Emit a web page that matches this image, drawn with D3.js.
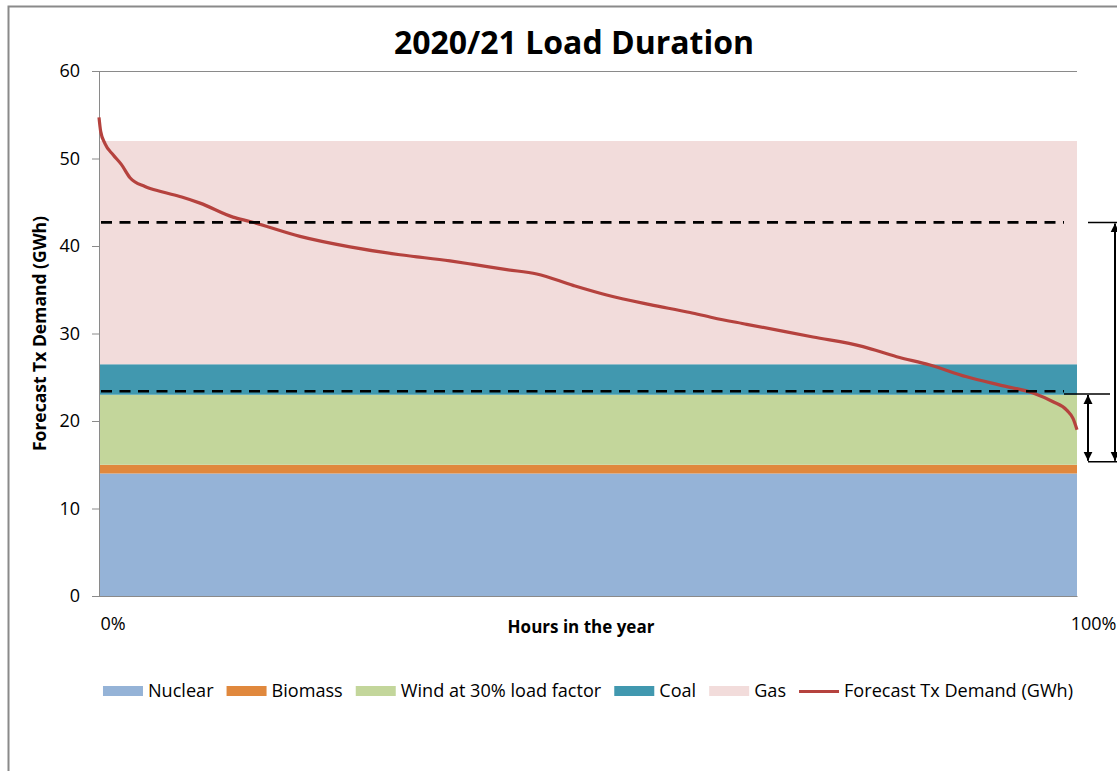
<!DOCTYPE html>
<html>
<head>
<meta charset="utf-8">
<script src="https://cdn.jsdelivr.net/npm/d3@7"></script>
<style>
  html, body { margin: 0; padding: 0; background: #fff; }
  svg { display: block; font-family: "Open Sans", "Liberation Sans", sans-serif; }
</style>
</head>
<body>
<svg id="chart" width="1117" height="771"></svg>
<script>
// ---------- data ----------
const titleText = "2020/21 Load Duration";
const yTitle = "Forecast Tx Demand (GWh)";
const xTitle = "Hours in the year";
const yTicks = [0, 10, 20, 30, 40, 50, 60];
const xTickLabels = ["0%", "100%"];
const xTickValues = [0, 100];

const bandNames = ["Nuclear", "Biomass", "Wind at 30% load factor", "Coal", "Gas"];
const bandValues = [14, 1, 8, 3.5, 25.5];
const bandColors = ["#95b3d7", "#e0883d", "#c3d69b", "#4198af", "#f2dcdb"];

const demandName = "Forecast Tx Demand (GWh)";
const demandPct = [0, 0.17, 0.61, 1.46, 2.3, 3.17, 4.7, 6.41, 8.46, 10.33, 13.7, 15.44, 20.55,
  25.66, 30.78, 35.89, 38.27, 41.69, 44.76, 48.47, 51.91, 56.34, 60.43, 62.78, 66.23, 73.01,
  78.12, 81.56, 84.97, 88.72, 92.13, 95.5, 97.55, 98.95, 99.59, 100];
const demandGWh = [54.7, 53.1, 51.7, 50.4, 49.3, 47.8, 46.8, 46.2, 45.6, 44.9, 43.3, 42.8, 41.1,
  39.9, 39.0, 38.3, 37.9, 37.3, 36.8, 35.5, 34.4, 33.3, 32.4, 31.8, 31.05, 29.6,
  28.5, 27.35, 26.4, 25.05, 24.1, 23.2, 22.2, 21.25, 20.3, 19.0];
const demandColor = "#b5423e";

const dashedLevels = [42.7, 23.4];
// annotation bracket levels (GWh) on the right
const bracketTop = 42.7, bracketMid = 23.1, bracketBottom = 15.35;

// ---------- layout ----------
const svg = d3.select("#chart");
const margin = { left: 99, right: 1077, top: 71, bottom: 596 };

const x = d3.scaleLinear().domain([0, 100]).range([margin.left, margin.right]);
const y = d3.scaleLinear().domain([0, 60]).range([margin.bottom, margin.top]);

// frame
svg.append("rect").attr("x", 8.5).attr("y", 6.5).attr("width", 1300).attr("height", 900)
  .attr("fill", "#fff").attr("stroke", "#8a8a8a").attr("stroke-width", 2);

// title
svg.append("text").attr("x", 574).attr("y", 54).attr("text-anchor", "middle")
  .attr("font-weight", "bold").attr("font-size", 32).attr("fill", "#000").text(titleText);

// gridlines
const grid = svg.append("g").attr("transform", `translate(${margin.left},0)`)
  .call(d3.axisLeft(y).tickValues(yTicks).tickSize(-(margin.right - margin.left)).tickFormat(""));
grid.select(".domain").remove();
grid.selectAll("line").attr("stroke", "#8a8a8a").attr("stroke-width", 1);

// stacked bands
const bandRow = {};
bandNames.forEach((n, i) => bandRow[n] = bandValues[i]);
const stacked = d3.stack().keys(bandNames)([bandRow]);
stacked.forEach((s, i) => {
  const lo = s[0][0], hi = s[0][1];
  const a = d3.area().x(d => x(d)).y0(y(lo)).y1(y(hi));
  svg.append("path").datum(xTickValues).attr("d", a).attr("fill", bandColors[i]);
});

// y axis
const yAxis = svg.append("g").attr("transform", `translate(${margin.left},0)`)
  .call(d3.axisLeft(y).tickValues(yTicks).tickSize(7).tickPadding(12));
yAxis.select(".domain").attr("stroke", "#8a8a8a");
yAxis.selectAll("line").attr("stroke", "#8a8a8a");
yAxis.selectAll("text").attr("font-size", 18).attr("fill", "#000")
  .style("font-family", "'Open Sans', sans-serif");

// x axis
const xAxis = svg.append("g").attr("transform", `translate(0,${margin.bottom})`)
  .call(d3.axisBottom(x).tickValues(xTickValues).tickSize(0).tickPadding(21)
    .tickFormat((d, i) => xTickLabels[i]));
xAxis.select(".domain").attr("stroke", "#8a8a8a");
xAxis.selectAll("text").attr("font-size", 18).attr("fill", "#000")
  .attr("text-anchor", (d, i) => i === 0 ? "start" : "end")
  .attr("dx", (d, i) => i === 0 ? 1 : 39)
  .style("font-family", "'Open Sans', sans-serif");

// axis titles
svg.append("text").attr("transform", `translate(46,${(margin.top + margin.bottom) / 2}) rotate(-90)`)
  .attr("text-anchor", "middle").attr("font-weight", "bold").attr("font-size", 17.5)
  .attr("fill", "#000").text(yTitle);
svg.append("text").attr("x", 581).attr("y", 633).attr("text-anchor", "middle")
  .attr("font-weight", "bold").attr("font-size", 17).attr("fill", "#000").text(xTitle);

// demand curve
const line = d3.line().x((d, i) => x(demandPct[i])).y(d => y(d)).curve(d3.curveMonotoneX);
svg.append("path").datum(demandGWh).attr("d", line).attr("fill", "none")
  .attr("stroke", demandColor).attr("stroke-width", 3.2).attr("stroke-linejoin", "round");

// dashed levels
svg.selectAll(".dash").data(dashedLevels).enter().append("line")
  .attr("x1", x(0) + 2).attr("x2", x(100) - 13)
  .attr("y1", d => y(d)).attr("y2", d => y(d))
  .attr("stroke", "#000").attr("stroke-width", 2.6).attr("stroke-dasharray", "11,7.5");

// right annotations
const defs = svg.append("defs");
defs.append("marker").attr("id", "arr").attr("viewBox", "0 0 10 10").attr("refX", 10).attr("refY", 5)
  .attr("markerWidth", 9).attr("markerHeight", 10).attr("markerUnits", "userSpaceOnUse")
  .attr("orient", "auto-start-reverse")
  .append("path").attr("d", "M0,0 L10,5 L0,10 Z").attr("fill", "#000");
const ann = svg.append("g").attr("stroke", "#000").attr("stroke-width", 1.5);
const xr = x(100);
ann.append("line").attr("x1", xr + 11).attr("x2", xr + 45).attr("y1", y(bracketTop)).attr("y2", y(bracketTop));
ann.append("line").attr("x1", xr - 13).attr("x2", xr + 33).attr("y1", y(bracketMid)).attr("y2", y(bracketMid));
ann.append("line").attr("x1", xr + 11).attr("x2", xr + 45).attr("y1", y(bracketBottom)).attr("y2", y(bracketBottom));
function arrow(xp, v1, v2) {
  ann.append("line").attr("x1", xp).attr("x2", xp).attr("y1", y(v1) + 1).attr("y2", y(v2) - 1)
    .attr("stroke-width", 2)
    .attr("marker-start", "url(#arr)").attr("marker-end", "url(#arr)");
}
arrow(xr + 11, bracketMid, bracketBottom);
arrow(xr + 38, bracketTop, bracketBottom);

// legend
const legendItems = bandNames.map((n, i) => ({ name: n, color: bandColors[i], type: "rect" }))
  .concat([{ name: demandName, color: demandColor, type: "line" }]);
const lg = svg.append("g");
let cx = 0;
legendItems.forEach(it => {
  const g = lg.append("g").attr("transform", `translate(${cx},0)`);
  if (it.type === "rect") {
    g.append("rect").attr("x", 0).attr("y", -5).attr("width", 40).attr("height", 10).attr("fill", it.color);
  } else {
    g.append("line").attr("x1", 0).attr("x2", 40).attr("y1", 0.5).attr("y2", 0.5)
      .attr("stroke", it.color).attr("stroke-width", 3.2);
  }
  const t = g.append("text").attr("x", 45).attr("y", 0).attr("dy", "0.35em")
    .attr("font-size", 18.1).attr("fill", "#000").text(it.name);
  cx += 45 + t.node().getComputedTextLength() + 13;
});
const totalW = cx - 13;
lg.attr("transform", `translate(${(101 + 1075) / 2 - totalW / 2},691)`);
</script>
</body>
</html>
